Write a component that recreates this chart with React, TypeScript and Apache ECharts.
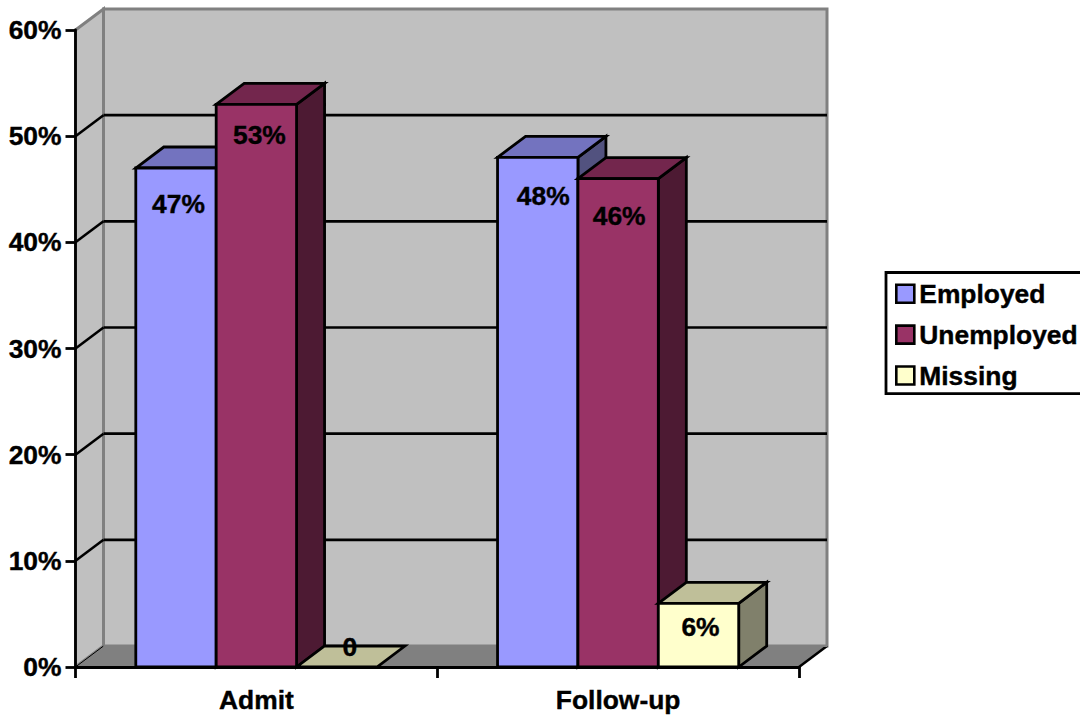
import React, { useEffect, useRef } from "react";
import * as echarts from "echarts";

const categories = ["Admit", "Follow-up"];
const seriesNames = ["Employed", "Unemployed", "Missing"];
const employed = [47, 48];
const unemployed = [53, 46];
const missing = [0, 6];
const yTicks = [0, 10, 20, 30, 40, 50, 60];

const faceColors = ["#9999FF", "#993366", "#FFFFCC"];
const topColors = ["#7373BF", "#73264D", "#BFBF99"];
const sideColors = ["#52527F", "#4D1A33", "#80806B"];

// Receding depth of the 3D box, in pixels.
const DEPTH_X = 28;
const DEPTH_Y = 21;
const FONT = "'Liberation Sans', Arial, sans-serif";
const FONT_SIZE = 26.4;
const TEXT_WEIGHT = 0.4;
const LINE = 2.8;

// Hand placement of each value label relative to its box's top front centre.
const labelNudge = [
  [[2.5, 36], [5.5, 38.5]],
  [[3, 31], [1, 37.5]],
  [[13, -20], [2, 23.5]],
];

const polygon = (points: number[][], fill: string, z2 = 0) => ({
  type: "polygon",
  z2,
  shape: { points },
  style: { fill, stroke: "#000", lineWidth: LINE, lineJoin: "miter" },
});

function renderRoom(params: any) {
  const { x, y, width, height } = params.coordSys;
  const r = x + width;
  const b = y + height;
  const frame = { stroke: "#808080", lineWidth: 3 };
  return {
    type: "group",
    children: [
      {
        type: "polygon",
        shape: { points: [[x + DEPTH_X, y - DEPTH_Y], [r + DEPTH_X, y - DEPTH_Y], [r + DEPTH_X, b - DEPTH_Y], [x + DEPTH_X, b - DEPTH_Y]] },
        style: { fill: "#C0C0C0", ...frame },
      },
      {
        type: "polygon",
        shape: { points: [[x, y], [x + DEPTH_X, y - DEPTH_Y], [x + DEPTH_X, b - DEPTH_Y], [x, b]] },
        style: { fill: "#C0C0C0", ...frame },
      },
      {
        type: "polygon",
        shape: { points: [[x, b], [x + DEPTH_X, b - DEPTH_Y], [r + DEPTH_X, b - DEPTH_Y], [r, b]] },
        style: { fill: "#808080", stroke: "none" },
      },
    ],
  };
}

function renderGridLine(params: any, api: any) {
  const value = api.value(0);
  const { x, width } = params.coordSys;
  const py = api.coord([0, value])[1];
  const r = x + width;
  const isTop = value === yTicks[yTicks.length - 1];
  const isFloor = value === yTicks[0];
  if (isTop) return { type: "group", children: [] };
  const black = { stroke: "#000", lineWidth: 2.6 };
  const gray = { stroke: "#808080", lineWidth: 2 };
  return {
    type: "group",
    children: isFloor
      ? [
          { type: "line", shape: { x1: x, y1: py, x2: x + DEPTH_X, y2: py - DEPTH_Y }, style: { stroke: "#000", lineWidth: 1 } },
          { type: "line", shape: { x1: r, y1: py, x2: r + DEPTH_X, y2: py - DEPTH_Y }, style: black },
          { type: "line", shape: { x1: x + DEPTH_X, y1: py - DEPTH_Y, x2: r + DEPTH_X, y2: py - DEPTH_Y }, style: gray },
        ]
      : [
          { type: "line", shape: { x1: x, y1: py, x2: x + DEPTH_X, y2: py - DEPTH_Y }, style: black },
          { type: "line", shape: { x1: x + DEPTH_X, y1: py - DEPTH_Y, x2: r + DEPTH_X, y2: py - DEPTH_Y }, style: black },
        ],
  };
}

const renderBox = (seriesIndex: number) => (params: any, api: any) => {
  const cat = api.value(0);
  const value = api.value(1);
  const [cx, top] = api.coord([cat, value]);
  const base = api.coord([cat, 0])[1];
  const band = api.size([1, 0])[0];
  const w = band / 4.5;
  const x0 = cx + (seriesIndex - 1.5) * w;
  const x1 = x0 + w;
  const children: any[] = [];
  if (value > 0) {
    children.push(
      polygon([[x1, top], [x1 + DEPTH_X, top - DEPTH_Y], [x1 + DEPTH_X, base - DEPTH_Y], [x1, base]], sideColors[seriesIndex], 1),
      polygon([[x0, top], [x1, top], [x1, base], [x0, base]], faceColors[seriesIndex], 2)
    );
  }
  children.push(
    polygon([[x0, top], [x0 + DEPTH_X, top - DEPTH_Y], [x1 + DEPTH_X, top - DEPTH_Y], [x1, top]], topColors[seriesIndex], 1)
  );
  const [dx, dy] = labelNudge[seriesIndex][cat];
  children.push({
    type: "text",
    z2: 5,
    x: (x0 + x1) / 2 + dx,
    y: top + dy,
    style: {
      text: value === 0 ? "0" : `${value}%`,
      fill: "#000",
      stroke: "#000",
      lineWidth: TEXT_WEIGHT,
      font: `bold ${FONT_SIZE}px ${FONT}`,
      align: "center",
      verticalAlign: "middle",
    },
  });
  return { type: "group", children };
};

const valuesBySeries = [employed, unemployed, missing];

const axisText = {
  color: "#000",
  fontFamily: FONT,
  fontWeight: "bold",
  fontSize: FONT_SIZE,
  textBorderColor: "#000",
  textBorderWidth: TEXT_WEIGHT,
};

export default function App() {
  const ref = useRef<HTMLDivElement>(null);

  useEffect(() => {
    const chart = echarts.init(ref.current!, undefined, { renderer: "svg" });
    chart.setOption({
      animation: false,
      backgroundColor: "#fff",
      grid: { left: 75.5, right: 281, top: 30, bottom: 48, containLabel: false },
      legend: {
        data: seriesNames.map((name, i) => ({
          name,
          icon: "rect",
          itemStyle: { color: faceColors[i], borderColor: "#000", borderWidth: 2.6 },
        })),
        orient: "vertical",
        left: 886,
        top: 272.5,
        padding: [8, 4, 5, 9],
        itemWidth: 18,
        itemHeight: 18,
        itemGap: 14.5,
        selectedMode: false,
        backgroundColor: "#fff",
        borderColor: "#000",
        borderWidth: 2.8,
        align: "left",
        textStyle: axisText,
      },
      xAxis: {
        type: "category",
        data: categories,
        z: 6,
        axisLine: { show: true, lineStyle: { color: "#000", width: 2.8 } },
        axisTick: { show: true, length: 11, lineStyle: { color: "#000", width: 2.8 } },
        axisLabel: { ...axisText, margin: 20 },
      },
      yAxis: {
        type: "value",
        min: 0,
        max: 60,
        interval: 10,
        z: 6,
        axisLine: { show: true, lineStyle: { color: "#000", width: 2.8 } },
        axisTick: { show: true, length: 10, lineStyle: { color: "#000", width: 2.8 } },
        axisLabel: { ...axisText, margin: 14, formatter: "{value}%" },
        splitLine: { show: false },
      },
      series: [
        { type: "custom", name: "room", silent: true, z: 1, data: [[0]], renderItem: renderRoom, encode: { y: 0 } },
        {
          type: "custom",
          name: "gridlines",
          silent: true,
          z: 2,
          data: yTicks.map((t) => [t]),
          renderItem: renderGridLine,
          encode: { y: 0 },
        },
        ...seriesNames.map((name, i) => ({
          type: "custom",
          name,
          silent: true,
          z: 3 + i,
          clip: false,
          itemStyle: { color: faceColors[i] },
          data: categories.map((_, c) => [c, valuesBySeries[i][c]]),
          encode: { x: 0, y: 1 },
          renderItem: renderBox(i),
        })),
      ],
    });
    return () => chart.dispose();
  }, []);

  return <div ref={ref} style={{ position: "absolute", left: 0, top: 0, width: 1080, height: 715 }} />;
}
